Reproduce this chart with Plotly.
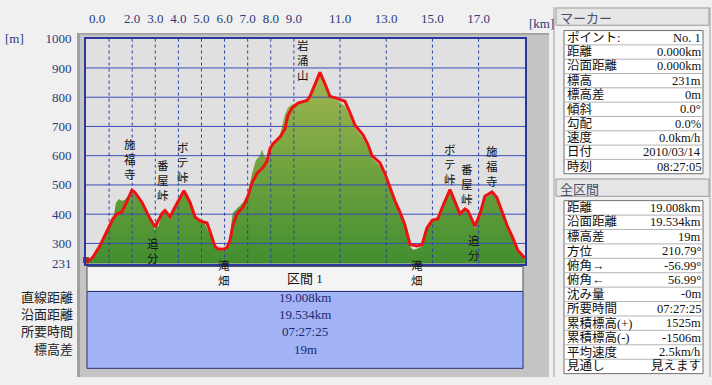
import plotly.graph_objects as go

W, H = 712, 385

# ---------------- data ----------------
track_km = [0.00, 0.30, 0.61, 0.91, 1.17, 1.34, 1.56, 1.77, 1.99, 2.12, 2.42, 2.77, 2.99, 3.07,
            3.29, 3.42, 3.64, 3.81, 4.07, 4.24, 4.50, 4.72, 4.94, 5.24, 5.45, 5.58, 5.71, 5.93,
            6.10, 6.23, 6.36, 6.54, 6.80, 7.01, 7.19, 7.40, 7.66, 7.84, 7.97, 8.10, 8.40, 8.61,
            8.74, 8.92, 9.18, 9.57, 9.70, 9.91, 10.13, 10.35, 10.56, 10.87, 11.21, 11.43, 11.65,
            11.99, 12.21, 12.38, 12.73, 12.94, 13.16, 13.38, 13.59, 13.81, 14.03, 14.33, 14.55,
            14.76, 14.98, 15.24, 15.45, 15.76, 15.97, 16.19, 16.41, 16.54, 16.84, 17.06, 17.27,
            17.58, 17.79, 18.01, 18.23, 18.48, 18.70, 19.00]
track_elev = [231, 253, 293, 340, 385, 401, 408, 444, 482, 474, 441, 385, 356, 368,
              403, 413, 391, 418, 457, 480, 441, 391, 377, 370, 322, 290, 282, 280,
              286, 309, 362, 401, 424, 461, 507, 539, 559, 582, 625, 641, 664, 691,
              737, 763, 780, 789, 803, 845, 885, 845, 803, 796, 786, 747, 704,
              671, 638, 600, 575, 539, 490, 445, 408, 362, 296, 291, 296,
              352, 378, 385, 428, 484, 444, 401, 418, 411, 359, 401, 461,
              476, 457, 408, 362, 319, 276, 250]

terrain_km = [0.00, 0.30, 0.61, 0.91, 1.17, 1.30, 1.43, 1.56, 1.69, 1.99, 2.42, 2.77, 2.99, 3.03,
              3.12, 3.29, 3.42, 3.64, 3.81, 4.07, 4.24, 4.50, 4.72, 4.94, 5.15, 5.24, 5.45, 5.58,
              5.93, 6.10, 6.23, 6.28, 6.36, 6.54, 6.80, 7.01, 7.19, 7.36, 7.53, 7.62, 7.71, 7.84,
              7.97, 8.10, 8.40, 8.61, 8.74, 8.92, 9.18, 9.57, 9.70, 9.91, 10.13, 10.35, 10.56,
              10.87, 11.21, 11.43, 11.65, 11.99, 12.21, 12.38, 12.73, 12.94, 13.16, 13.38, 13.59,
              13.81, 14.03, 14.16, 14.33, 14.55, 14.76, 14.98, 15.24, 15.45, 15.76, 15.97, 16.19,
              16.41, 16.54, 16.84, 17.06, 17.27, 17.58, 17.79, 18.01, 18.23, 18.48, 18.70, 19.00]
terrain_elev = [231, 250, 290, 335, 380, 440, 452, 445, 450, 478, 436, 380, 345, 385,
                355, 400, 410, 385, 415, 455, 478, 438, 385, 372, 368, 350, 318, 285,
                275, 282, 305, 360, 405, 420, 440, 470, 540, 585, 600, 622, 600, 590,
                625, 645, 672, 740, 765, 775, 782, 790, 803, 840, 880, 840, 800,
                790, 770, 735, 695, 660, 625, 592, 565, 525, 480, 440, 400,
                355, 290, 278, 282, 290, 350, 380, 388, 425, 478, 440, 398,
                412, 405, 352, 398, 455, 470, 450, 402, 355, 312, 270, 248]

x_max = 19.008
y_min, y_max = 231, 1000
y_tick_vals = [231, 300, 400, 500, 600, 700, 800, 900, 1000]
h_grid = [300, 400, 500, 600, 700, 800, 900]
v_grid = [1, 2, 3, 4, 5, 6, 7, 8, 9, 11, 13, 15, 17]
x_tick_vals = [0.48, 2, 3, 4, 5, 6, 7, 8, 9, 11, 13, 15, 17]
x_tick_text = ["0.0", "2.0", "3.0", "4.0", "5.0", "6.0", "7.0", "8.0", "9.0",
               "11.0", "13.0", "15.0", "17.0"]

# place names (vertical text) : name, km, elevation of label centre
place_names = ["施福寺", "番屋峠", "ボテ峠", "追分", "岩涌山", "ボテ峠", "番屋峠", "追分", "施福寺"]
place_km = [1.90, 3.33, 4.20, 2.90, 9.39, 15.76, 16.49, 16.80, 17.58]
place_elev = [584, 513, 576, 275, 925, 569, 500, 283, 562]
# names hanging below the baseline (top of text at given elevation)
low_names = ["滝畑", "滝畑"]
low_km = [5.97, 14.33]
low_elev = [250, 250]

section_title = "区間 1"
section_labels = ["直線距離", "沿面距離", "所要時間", "標高差"]
section_values = ["19.008km", "19.534km", "07:27:25", "19m"]

marker_title = "マーカー"
marker_labels = ["ポイント:", "距離", "沿面距離", "標高", "標高差", "傾斜", "勾配", "速度", "日付", "時刻"]
marker_values = ["No. 1", "0.000km", "0.000km", "231m", "0m", "0.0°", "0.0%", "0.0km/h",
                 "2010/03/14", "08:27:05"]

total_title = "全区間"
total_labels = ["距離", "沿面距離", "標高差", "方位", "俯角→", "俯角←", "沈み量", "所要時間",
                "累積標高(+)", "累積標高(-)", "平均速度", "見通し"]
total_values = ["19.008km", "19.534km", "19m", "210.79°", "-56.99°", "56.99°", "-0m",
                "07:27:25", "1525m", "-1506m", "2.5km/h", "見えます"]

# ---------------- styling helpers ----------------
NUM_FONT = "Liberation Serif, Noto Sans CJK JP"
JP_FONT = "Noto Sans CJK JP, Liberation Serif"
NAVY = "#2c3a78"

shapes = []
annos = []


def rect(x0, y0, x1, y1, fill, line=None, lw=1, layer="below"):
    shapes.append(dict(type="rect", xref="paper", yref="paper",
                       x0=x0 / W, x1=x1 / W, y0=1 - y1 / H, y1=1 - y0 / H,
                       fillcolor=fill,
                       line=dict(color=line if line else "rgba(0,0,0,0)", width=lw if line else 0),
                       layer=layer))


def hline(x0, x1, y, color, lw=1, layer="below"):
    shapes.append(dict(type="line", xref="paper", yref="paper",
                       x0=x0 / W, x1=x1 / W, y0=1 - y / H, y1=1 - y / H,
                       line=dict(color=color, width=lw), layer=layer))


def vline(x, y0, y1, color, lw=1, layer="below"):
    shapes.append(dict(type="line", xref="paper", yref="paper",
                       x0=x / W, x1=x / W, y0=1 - y0 / H, y1=1 - y1 / H,
                       line=dict(color=color, width=lw), layer=layer))


def text(x, y, s, size=13, color="#111111", family=NUM_FONT, xanchor="left"):
    annos.append(dict(xref="paper", yref="paper", x=x / W, y=1 - y / H, text=s,
                      showarrow=False, xanchor=xanchor, yanchor="middle",
                      font=dict(size=size, color=color, family=family), borderpad=0))


# ---------------- chart frame ----------------
rect(77, 27, 549, 385, "#c4c4c4")
rect(77, 27, 80, 385, "#a0a0a0")
rect(77, 27, 549, 29, "#a0a0a0")
rect(86, 33, 525, 267, "#e0e0e0")

# section table under the chart
rect(87, 270, 523, 296, "#f4f4f4", line="#505050")
rect(87, 296, 523, 376, "#a2b4f6", line="#2a3270")
text(305, 283, section_title, size=13, color="#111111", xanchor="center")
for i, (lab, val) in enumerate(zip(section_labels, section_values)):
    yy = 302 + 18 * i
    text(74, yy, lab, size=13, color="#222222", xanchor="right")
    text(305, yy, val, size=13, color="#1c2870", xanchor="center")

# axis unit labels
text(4, 33, "[m]", size=13, color=NAVY)
text(541, 17, "[km]", size=13, color=NAVY, xanchor="center")

# ---------------- right panel ----------------
vline(554, 0, 385, "#a0a0a0")
vline(710, 0, 385, "#a0a0a0")


def panel(top, title, labels, values, table_top, row_h):
    rect(556, top, 709, top + 18, "#e6e6e6", line="#9a9a9a")
    text(559, top + 9.5, title, size=13, color="#4a5068", family=JP_FONT)
    n = len(labels)
    bottom = table_top + row_h * n
    rect(564, table_top, 703, bottom, "#ffffff", line="#6e6e6e")
    for k in range(1, n):
        hline(564, 703, table_top + row_h * k, "#b4b4b4")
    for k, (lab, val) in enumerate(zip(labels, values)):
        yy = table_top + row_h * (k + 0.5)
        text(566, yy, lab, size=12.5, color="#111111")
        text(702, yy, val, size=12.5, color="#111111", xanchor="right")


panel(1, marker_title, marker_labels, marker_values, 24.5, 14.9)
panel(179, total_title, total_labels, total_values, 201.5, 15.0)

# ---------------- place-name annotations ----------------
for name, km, el in zip(place_names, place_km, place_elev):
    annos.append(dict(x=km, y=el, xref="x", yref="y", text="<br>".join(name),
                      showarrow=False, xanchor="center", yanchor="middle",
                      font=dict(size=11.5, color="#111111", family=NUM_FONT)))
for name, km, el in zip(low_names, low_km, low_elev):
    annos.append(dict(x=km, y=el, xref="x", yref="y", text="<br>".join(name),
                      showarrow=False, xanchor="center", yanchor="top",
                      font=dict(size=11.5, color="#111111", family=NUM_FONT)))

# ---------------- traces ----------------
fig = go.Figure()

fig.add_trace(go.Scatter(
    x=terrain_km, y=terrain_elev, mode="lines", fill="tozeroy",
    line=dict(color="rgba(0,0,0,0)", width=0),
    fillgradient=dict(type="vertical", start=y_min, stop=900,
                      colorscale=[[0, "#3e8c2e"], [0.5, "#6fa23e"], [1, "#a2b652"]]),
    hoverinfo="skip", showlegend=False))

# grid lines drawn above the terrain, below the track
gx, gy = [], []
for v in h_grid:
    gx += [0, x_max, None]
    gy += [v, v, None]
fig.add_trace(go.Scatter(x=gx, y=gy, mode="lines", line=dict(color="#3a4cb8", width=1),
                         hoverinfo="skip", showlegend=False))
vx, vy = [], []
for g in v_grid:
    vx += [g, g, None]
    vy += [y_min, y_max, None]
fig.add_trace(go.Scatter(x=vx, y=vy, mode="lines",
                         line=dict(color="#2840a8", width=1, dash="dot"),
                         hoverinfo="skip", showlegend=False))

fig.add_trace(go.Scatter(
    x=track_km, y=track_elev, mode="lines",
    line=dict(color="#ee1111", width=3),
    hoverinfo="skip", showlegend=False))

# start marker
fig.add_trace(go.Scatter(x=[track_km[0]], y=[track_elev[0] + 12], mode="markers",
                         marker=dict(symbol="square", size=6, color="#a82a2a"),
                         cliponaxis=False, hoverinfo="skip", showlegend=False))

fig.update_layout(
    width=W, height=H,
    margin=dict(l=0, r=0, t=0, b=0, pad=0),
    paper_bgcolor="#f0f0f0",
    plot_bgcolor="rgba(0,0,0,0)",
    showlegend=False,
    hovermode=False,
    shapes=shapes,
    annotations=annos,
    xaxis=dict(domain=[86 / W, 525 / W], range=[0, x_max], side="top",
               tickvals=x_tick_vals, ticktext=x_tick_text,
               showgrid=False, zeroline=False,
               showline=True, mirror=True, linecolor="#2a389c", linewidth=2,
               ticks="outside", ticklen=9, tickcolor="rgba(0,0,0,0)",
               tickfont=dict(family=NUM_FONT, size=13, color=NAVY)),
    yaxis=dict(domain=[1 - 267 / H, 1 - 33 / H], range=[y_min, y_max],
               tickvals=y_tick_vals, ticktext=[str(v) for v in y_tick_vals],
               showgrid=False, zeroline=False,
               showline=True, mirror=True, linecolor="#2a389c", linewidth=2,
               ticks="outside", ticklen=10, tickcolor="rgba(0,0,0,0)",
               tickfont=dict(family=NUM_FONT, size=13, color=NAVY)),
)

fig.write_html("out.html", config={"displayModeBar": False},
               post_script="document.body.style.margin='0px';")
